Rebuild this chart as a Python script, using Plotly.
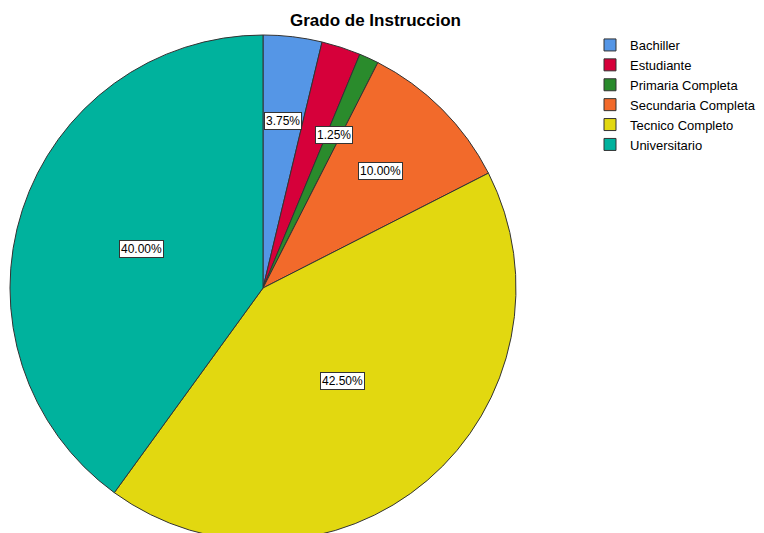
import math
import plotly.graph_objects as go

# ---- data ----------------------------------------------------------------
CATEGORIES = ["Bachiller", "Estudiante", "Primaria Completa", "Secundaria Completa",
              "Tecnico Completo", "Universitario"]
PERCENTS = [3.75, 2.50, 1.25, 10.00, 42.50, 40.00]
SHOW_LABEL = [True, False, True, True, True, True]   # 2.50% is hidden in the original
COLORS = ["#5596E6", "#D6003A", "#2A8B2C", "#F26A2B", "#E2D810", "#00B29D"]

W, H = 764, 545
# pie box in pixels (left, top, right, bottom)
PX0, PY0, PX1, PY1 = 10, 35, 516, 541
FONT = "Arial, Liberation Sans, sans-serif"

fig = go.Figure(go.Pie(
    labels=CATEGORIES, values=PERCENTS, sort=False, direction="clockwise", rotation=0,
    marker=dict(colors=COLORS, line=dict(color="#333333", width=1)),
    textinfo="none", hoverinfo="label+percent",
    domain=dict(x=[PX0 / W, PX1 / W], y=[1 - PY1 / H, 1 - PY0 / H]),
))

# percentage boxes placed at each slice's centroid
cx, cy, r = (PX0 + PX1) / 2, (PY0 + PY1) / 2, (PX1 - PX0) / 2
total = sum(PERCENTS)
start = 0.0
annotations = []
for pct, show in zip(PERCENTS, SHOW_LABEL):
    frac = pct / total
    half = math.pi * frac
    mid = 2 * math.pi * (start + frac / 2)
    d = r * 2 * math.sin(half) / (3 * half)
    start += frac
    if not show:
        continue
    x = cx + d * math.sin(mid)
    y = cy - d * math.cos(mid)
    annotations.append(dict(
        text=f"{pct:.2f}%", x=x / W, y=1 - y / H, xref="paper", yref="paper",
        xanchor="center", yanchor="middle",
        showarrow=False, bgcolor="white", bordercolor="#333333", borderwidth=1, borderpad=1,
        font=dict(family=FONT, size=12, color="black"),
    ))

annotations.append(dict(
    text="<b>Grado de Instruccion</b>", x=375 / W, y=1 - 21 / H, xref="paper", yref="paper",
    xanchor="center", yanchor="middle",
    showarrow=False, font=dict(family=FONT, size=17, color="black"),
))

fig.update_layout(
    width=W, height=H,
    margin=dict(l=0, r=0, t=0, b=0),
    paper_bgcolor="white",
    font=dict(family=FONT, size=12, color="black"),
    legend=dict(x=590 / W, y=1 - 30 / H, xanchor="left", yanchor="top",
                font=dict(family=FONT, size=13), itemwidth=30, tracegroupgap=0),
    annotations=annotations,
)

fig.write_html("out.html", config={"displayModeBar": False},
               post_script="document.documentElement.style.overflow='hidden';"
                           "document.body.style.overflow='hidden';"
                           "document.body.style.margin='0';")
